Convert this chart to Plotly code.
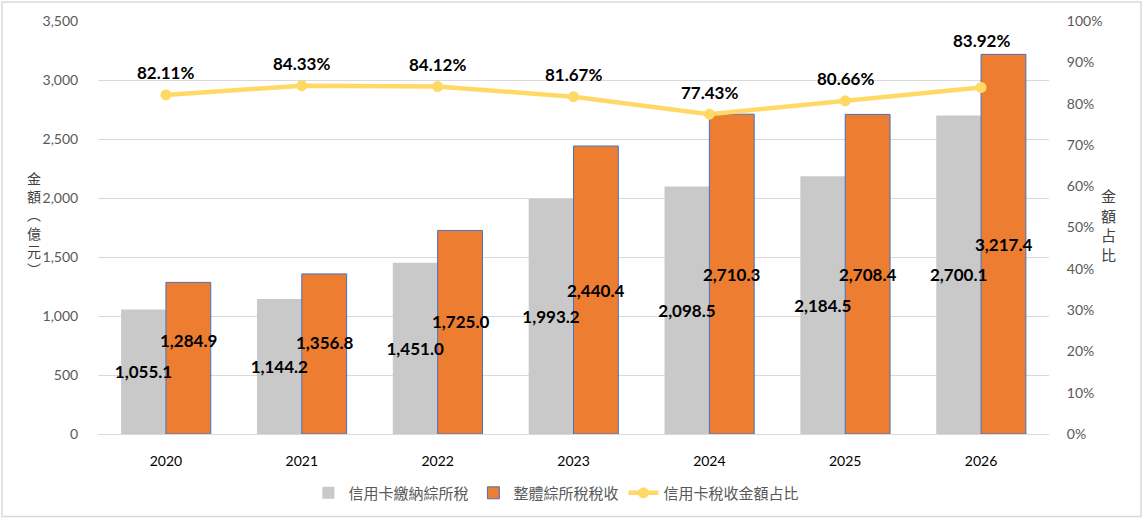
import plotly.graph_objects as go

years = ["2020", "2021", "2022", "2023", "2024", "2025", "2026"]
card_tax = [1055.1, 1144.2, 1451.0, 1993.2, 2098.5, 2184.5, 2700.1]
total_tax = [1284.9, 1356.8, 1725.0, 2440.4, 2710.3, 2708.4, 3217.4]
ratio = [0.8211, 0.8433, 0.8412, 0.8167, 0.7743, 0.8066, 0.8392]

name_card = "信用卡繳納綜所稅"
name_total = "整體綜所稅稅收"
name_ratio = "信用卡稅收金額占比"

# label nudges (px) used to keep labels apart, as in the original
ratio_label_lift = [22, 22, 22, 22, 22, 22, 47]
total_label_lift = [18, 11, 11, 0, 0, 0, 0]

NUM_FONT = "Lato, 'Noto Sans', sans-serif"
CJK_FONT = "'Noto Sans CJK TC', 'Noto Sans', sans-serif"
TICK_COLOR = "#595959"
LABEL_FONT = dict(family=NUM_FONT, size=17, color="#000000", weight="bold")
BAR_W = 0.33

fig = go.Figure()

# bars
fig.add_trace(go.Bar(
    x=years, y=card_tax, name=name_card,
    offset=-BAR_W, width=BAR_W,
    marker=dict(color="#C9C9C9", line=dict(width=0)),
    hoverinfo="skip", yaxis="y",
))
fig.add_trace(go.Bar(
    x=years, y=total_tax, name=name_total,
    offset=0, width=BAR_W,
    marker=dict(color="#ED7D31", line=dict(color="#4472C4", width=1)),
    hoverinfo="skip", yaxis="y",
))

# grey-bar value labels, drawn above both bar series
fig.add_trace(go.Bar(
    x=years, y=card_tax, showlegend=False,
    offset=-BAR_W, width=BAR_W,
    marker=dict(color="rgba(0,0,0,0)", line=dict(width=0)),
    text=[f"{v:,.1f}" for v in card_tax],
    textposition="inside", insidetextanchor="middle", textangle=0,
    textfont=LABEL_FONT, hoverinfo="skip", yaxis="y",
))

fig.add_trace(go.Scatter(
    x=years, y=ratio, name=name_ratio, mode="lines+markers",
    line=dict(color="#FFD966", width=4.5),
    marker=dict(color="#FFD966", size=11),
    yaxis="y2", cliponaxis=False,
))

# orange-bar value labels, at the middle of each bar
for i, (v, lift) in enumerate(zip(total_tax, total_label_lift)):
    fig.add_annotation(
        x=i + BAR_W / 2, y=v / 2, xref="x", yref="y", yshift=lift,
        text=f"{v:,.1f}", showarrow=False, font=LABEL_FONT,
    )

for i, (r, lift) in enumerate(zip(ratio, ratio_label_lift)):
    fig.add_annotation(
        x=i, y=r, xref="x", yref="y2", yshift=lift,
        text=f"{r:.2%}", showarrow=False, font=LABEL_FONT,
    )

fig.add_annotation(
    x=-0.077, y=0.51, xref="paper", yref="paper",
    text="金<br>額<br>︵<br>億<br>元<br>︶", showarrow=False,
    font=dict(family=CJK_FONT, size=14, color="#404040"),
)
fig.add_annotation(
    x=1.0725, y=0.506, xref="paper", yref="paper",
    text="金<br>額<br>占<br>比", showarrow=False,
    font=dict(family=CJK_FONT, size=15, color="#404040"),
)

fig.add_shape(
    type="rect", xref="paper", yref="paper",
    x0=-0.101, x1=1.0967, y0=-0.2, y1=1.046,
    line=dict(color="#D9D9D9", width=1.5), fillcolor="rgba(0,0,0,0)",
    layer="below",
)

fig.update_layout(
    width=1144, height=522,
    margin=dict(l=98, r=95, t=21, b=88),
    paper_bgcolor="white", plot_bgcolor="white",
    barmode="overlay",
    uniformtext=dict(minsize=17, mode="show"),
    showlegend=True,
    legend=dict(
        orientation="h", x=0.482, xanchor="center", y=-0.143, yanchor="middle",
        font=dict(family=CJK_FONT, size=15, color=TICK_COLOR),
        traceorder="normal",
    ),
    xaxis=dict(
        type="category", showgrid=False, showline=True, linecolor="#D9D9D9",
        ticks="outside", ticklen=14, tickcolor="rgba(0,0,0,0)",
        tickfont=dict(family=NUM_FONT, size=14, color="#000000"),
        range=[-0.5, len(years) - 0.5],
    ),
    yaxis=dict(
        range=[0, 3500], dtick=500, tickformat=",",
        showgrid=True, gridcolor="#D9D9D9", gridwidth=1, zeroline=False,
        ticks="outside", ticklen=16, tickcolor="rgba(0,0,0,0)",
        tickfont=dict(family=NUM_FONT, size=14, color=TICK_COLOR),
    ),
    yaxis2=dict(
        overlaying="y", side="right", range=[0, 1], dtick=0.1, tickformat=".0%",
        showgrid=False, zeroline=False,
        ticks="outside", ticklen=14, tickcolor="rgba(0,0,0,0)",
        tickfont=dict(family=NUM_FONT, size=14, color=TICK_COLOR),
    ),
)

fig.write_html(
    "out.html",
    config={"displayModeBar": False},
    post_script="document.body.style.margin='0';",
)
